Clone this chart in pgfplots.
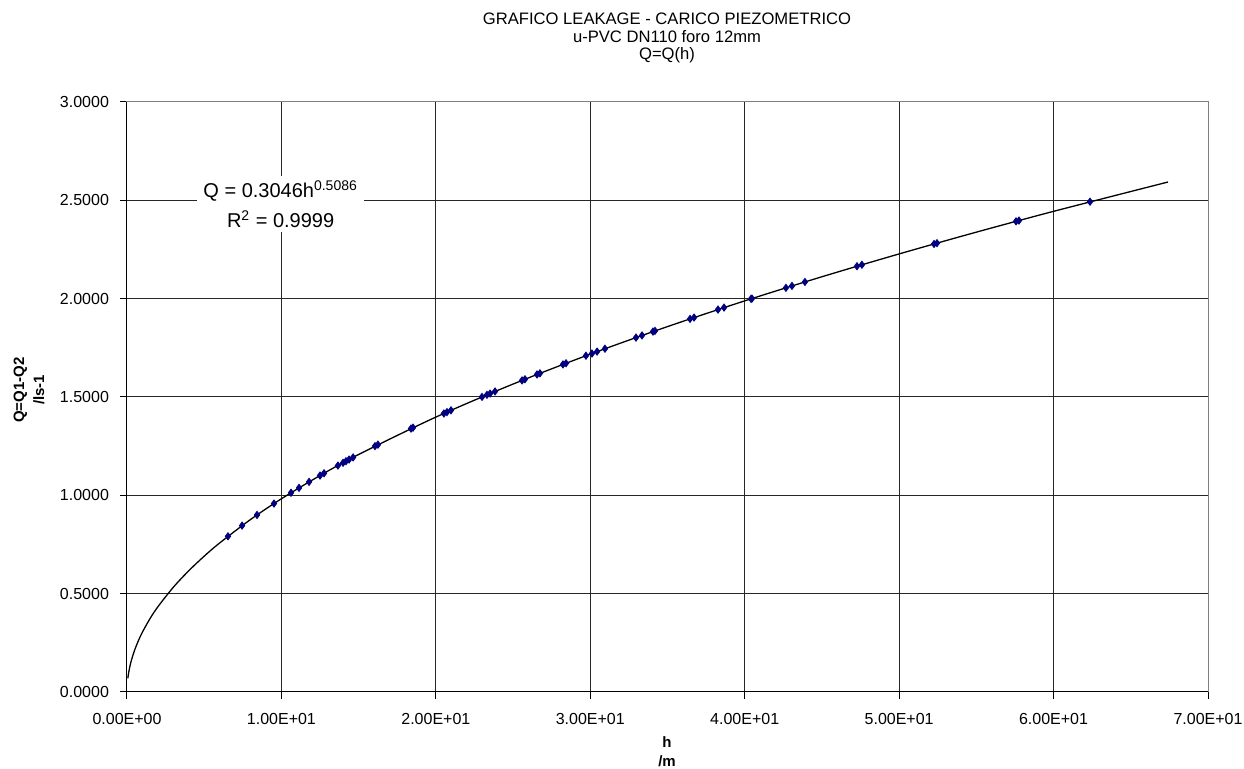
\documentclass[border=0pt]{standalone}
\usepackage{fontspec}
\setmainfont{Liberation Sans}
\usepackage{pgfplots}
\pgfplotsset{compat=1.18}
\definecolor{markblue}{RGB}{0,0,128}

% measured head h [m] and leakage Q [l/s]
\pgfplotstableread{
h      Q
6.54   0.7916
7.45   0.8459
8.42   0.9002
9.52   0.9582
10.62  1.0130
11.14  1.0379
11.79  1.0683
12.50  1.1006
12.76  1.1121
13.66  1.1514
13.99  1.1654
14.18  1.1735
14.38  1.1819
14.64  1.1926
16.06  1.2502
16.25  1.2577
18.39  1.3393
18.52  1.3441
20.52  1.4161
20.72  1.4231
20.98  1.4323
22.99  1.5005
23.31  1.5110
23.51  1.5175
23.83  1.5282
25.58  1.5842
25.77  1.5901
26.55  1.6144
26.74  1.6204
28.23  1.6656
28.43  1.6716
29.72  1.7098
30.11  1.7211
30.44  1.7307
30.95  1.7454
32.96  1.8021
33.35  1.8130
34.06  1.8324
34.19  1.8361
36.46  1.8971
36.72  1.9040
38.27  1.9444
38.66  1.9546
40.41  1.9990
40.47  2.0004
42.67  2.0550
43.06  2.0647
43.90  2.0850
47.27  2.1649
47.59  2.1723
52.26  2.2781
52.45  2.2822
57.57  2.3932
57.76  2.3971
62.36  2.4929
}\measured

% power-law trend line Q = 0.3046 h^0.5086
\pgfplotstableread{
h      Q
0.055  0.0697
0.1    0.0944
0.2    0.1344
0.3    0.1651
0.5    0.2141
0.75   0.2631
1      0.3046
1.5    0.3744
2      0.4333
3      0.5326
4      0.6165
5      0.6906
6      0.7577
8      0.8771
10     0.9825
12.5   1.1006
15     1.2076
20     1.3978
25     1.5658
30     1.7179
35     1.8579
40     1.9887
45     2.1114
50     2.2275
55     2.3382
60     2.4440
67.41  2.5931
}\trend

\begin{document}
\begin{tikzpicture}
\begin{axis}[
  name=ax,
  scale only axis,
  width=540.5pt, height=295pt,
  xmin=0, xmax=70, ymin=0, ymax=3,
  xtick={0,10,20,30,40,50,60,70},
  xticklabels={0.00E+00,1.00E+01,2.00E+01,3.00E+01,4.00E+01,5.00E+01,6.00E+01,7.00E+01},
  ytick={0,0.5,1,1.5,2,2.5,3},
  yticklabel={\pgfmathprintnumber[fixed,fixed zerofill,precision=4,assume math mode=true]{\tick}},
  ticklabel style={font=\fontsize{8}{9.5}\selectfont},
  xticklabel style={yshift=-3.5pt},
  yticklabel style={xshift=-2pt},
  tick pos=left,
  tick align=outside,
  major tick length=3.5pt,
  tick style={black, line width=0.5pt},
  grid=major,
  major grid style={black!85, line width=0.5pt},
  axis line style={black!50, line width=0.5pt},
  clip=false,
]
\addplot[black, line width=0.65pt, smooth] table[x=h, y=Q] {\trend};
\addplot[only marks, mark=diamond*, mark size=1.8pt, color=markblue, fill=markblue] table[x=h, y=Q] {\measured};

\draw[black, line width=0.5pt] (axis description cs:0,1) -- (axis description cs:0,0) -- (axis description cs:1,0);

\node[fill=white, align=center, inner xsep=3pt, inner ysep=2pt,
      font=\fontsize{10}{15}\selectfont] at (axis cs:9.95,2.481)
  {Q = 0.3046h\textsuperscript{\fontsize{7}{7}\selectfont 0.5086}\\
   R\textsuperscript{\fontsize{7}{7}\selectfont 2} = 0.9999};
\end{axis}

% titles and axis captions
\node[align=center, font=\fontsize{8.3}{8.75}\selectfont]
  at ([shift={(270pt,327pt)}]ax.south west)
  {GRAFICO LEAKAGE - CARICO PIEZOMETRICO\\u-PVC DN110 foro 12mm\\Q=Q(h)};
\node[align=center, rotate=90, font=\bfseries\fontsize{7.5}{10}\selectfont]
  at ([shift={(-49pt,151pt)}]ax.south west) {Q=Q1-Q2\\/ls-1};
\node[align=center, font=\bfseries\fontsize{7.5}{9.5}\selectfont]
  at ([shift={(270pt,-30pt)}]ax.south west) {h\\/m};

\pgfresetboundingbox
\path[use as bounding box] ([shift={(-63.5pt,-38.5pt)}]ax.south west)
  rectangle ([shift={(558.5pt,346pt)}]ax.south west);
\end{tikzpicture}
\end{document}
